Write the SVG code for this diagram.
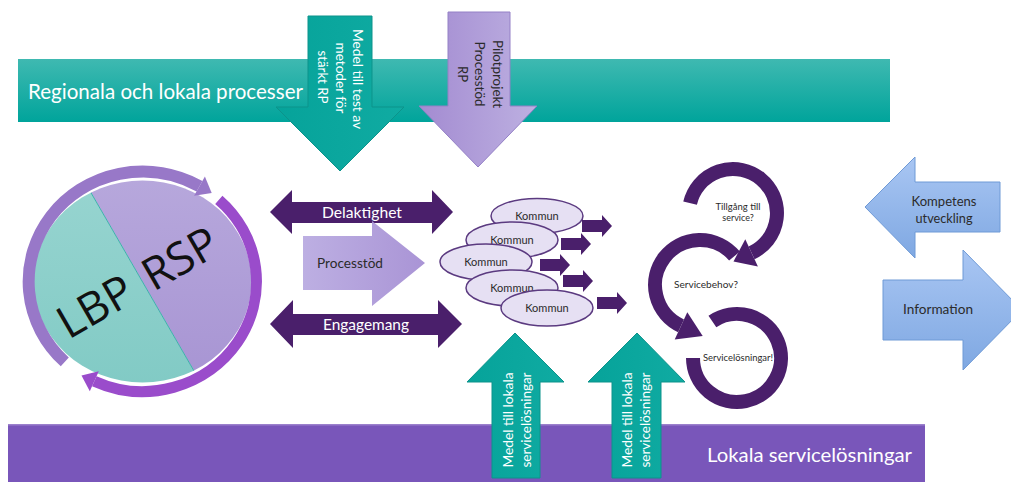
<svg xmlns="http://www.w3.org/2000/svg" width="1011" height="482" viewBox="0 0 1011 482">
<defs>
<linearGradient id="gTealBand" x1="0" y1="0" x2="0" y2="1"><stop offset="0" stop-color="#3fb9b1"/><stop offset="1" stop-color="#00a49b"/></linearGradient>
<linearGradient id="gTeal" x1="0" y1="0" x2="1" y2="0"><stop offset="0" stop-color="#06a39a"/><stop offset="1" stop-color="#10aba2"/></linearGradient>
<linearGradient id="gPilot" x1="0" y1="0" x2="1" y2="0"><stop offset="0" stop-color="#a38bd1"/><stop offset="1" stop-color="#bdb0e1"/></linearGradient>
<linearGradient id="gProc" x1="0" y1="0" x2="1" y2="0"><stop offset="0" stop-color="#b7a8e0"/><stop offset="1" stop-color="#a28bd2"/></linearGradient>
<linearGradient id="gBlue" x1="0" y1="0" x2="0" y2="1"><stop offset="0" stop-color="#a9c6f3"/><stop offset="1" stop-color="#7fa8e2"/></linearGradient>
<linearGradient id="gCTeal" x1="0" y1="0" x2="0" y2="1"><stop offset="0" stop-color="#9fd8d4"/><stop offset="1" stop-color="#7ac7c1"/></linearGradient>
<linearGradient id="gCPurp" x1="0" y1="0" x2="0" y2="1"><stop offset="0" stop-color="#bcaedf"/><stop offset="1" stop-color="#a28ed0"/></linearGradient>
<clipPath id="cCircle"><ellipse cx="142.5" cy="281.5" rx="109" ry="101"/></clipPath>
<style>
.t{font-family:Lato,"Liberation Sans",sans-serif}
.w{fill:#ffffff}
.d{fill:#2b2b2b}
.dp{fill:#4a1f6b}
.ring{fill:none;stroke:#4a1f6b;stroke-width:14}
.kom{fill:#e6e0f3;stroke:#5b3a80;stroke-width:1.5}
.blue{fill:url(#gBlue);stroke:#6f9ad6;stroke-width:1}
.teal{fill:url(#gTeal);stroke:#0c938b;stroke-width:1}
.big{font-family:'Open Sans','Liberation Sans',sans-serif;font-size:45px;fill:#111}
</style>
</defs>

<g id="band-top">
<rect x="18" y="59" width="872" height="63" fill="url(#gTealBand)"/>
<text class="t w" x="28" y="99" font-size="22" textLength="275" lengthAdjust="spacingAndGlyphs">Regionala och lokala processer</text>
</g>

<g id="band-bottom">
<rect x="8" y="424" width="917" height="58" fill="#7956ba"/>
<rect x="8" y="424" width="917" height="1.5" fill="#9b80cc"/>
<text class="t w" x="707" y="462" font-size="20" textLength="205" lengthAdjust="spacingAndGlyphs">Lokala servicelösningar</text>
</g>

<g id="arrow-medel-test">
<polygon class="teal" points="308,16 372,16 372,107 404,107 340,171 276,107 308,107"/>
<text class="t w" font-size="13" text-anchor="middle" transform="translate(352.5,79) rotate(90)" textLength="100" lengthAdjust="spacingAndGlyphs">Medel till test av</text>
<text class="t w" font-size="13" text-anchor="middle" transform="translate(335.5,78) rotate(90)" textLength="71" lengthAdjust="spacingAndGlyphs">metoder för</text>
<text class="t w" font-size="13" text-anchor="middle" transform="translate(318,77) rotate(90)" textLength="53" lengthAdjust="spacingAndGlyphs">stärkt RP</text>
</g>

<g id="arrow-pilot">
<polygon points="448,12 510,12 510,106 537,106 478,167 419,106 448,106" fill="url(#gPilot)" stroke="#9480c6" stroke-width="1"/>
<text class="t d" font-size="13" text-anchor="middle" transform="translate(492.5,74) rotate(90)" textLength="68" lengthAdjust="spacingAndGlyphs">Pilotprojekt</text>
<text class="t d" font-size="13" text-anchor="middle" transform="translate(474.5,74) rotate(90)" textLength="65" lengthAdjust="spacingAndGlyphs">Processtöd</text>
<text class="t d" font-size="13" text-anchor="middle" transform="translate(457.5,74) rotate(90)">RP</text>
</g>

<g id="cycle-lbp-rsp">
<g clip-path="url(#cCircle)">
<polygon points="42,108 242,454 -50,454 -50,108" fill="url(#gCTeal)"/>
<polygon points="42,108 242,454 300,454 300,108" fill="url(#gCPurp)"/>
<line x1="42" y1="108" x2="242" y2="454" stroke="#3bb3ab" stroke-width="1"/>
</g>
<path d="M 64.8 361.9 A 114 110 0 0 1 199.5 186.2" fill="none" stroke="#9878c8" stroke-width="12"/>
<polygon points="194.1,195.8 204.9,176.6 211.7,193" fill="#9878c8"/>
<path d="M 218.8 199.8 A 114 110 0 0 1 94.3 381.2" fill="none" stroke="#9a4ccb" stroke-width="11"/>
<polygon points="98.8,371.2 89.8,391.2 81.5,375.5" fill="#9a4ccb"/>
<text class="big" text-anchor="middle" transform="translate(188,272) rotate(-30)">RSP</text>
<text class="big" text-anchor="middle" transform="translate(103,320) rotate(-30)">LBP</text>
</g>

<g id="arrow-delaktighet">
<polygon class="dp" points="270,212 292,190 292,202 432,202 432,190 453,212 432,234 432,223 292,223 292,234"/>
<text class="t w" x="362" y="218" font-size="15" text-anchor="middle" textLength="80" lengthAdjust="spacingAndGlyphs">Delaktighet</text>
</g>

<g id="arrow-engagemang">
<polygon class="dp" points="270,324 293,300 293,314 438,314 438,300 462,324 438,348 438,335 293,335 293,348"/>
<text class="t w" x="366" y="330" font-size="15" text-anchor="middle" textLength="86" lengthAdjust="spacingAndGlyphs">Engagemang</text>
</g>

<g id="arrow-processtod">
<polygon points="303,236 372,236 372,221 425,263 372,306 372,290 303,290" fill="url(#gProc)" opacity="0.92"/>
<text class="t d" x="350" y="268" font-size="13" text-anchor="middle" textLength="66" lengthAdjust="spacingAndGlyphs">Processtöd</text>
</g>

<g id="kommuner">
<g id="kommun-1"><ellipse class="kom" cx="537" cy="216" rx="46" ry="17.5"/><text class="t d" x="537" y="220" font-size="11" text-anchor="middle">Kommun</text></g>
<g id="kommun-2"><ellipse class="kom" cx="512" cy="240" rx="46" ry="18"/><text class="t d" x="512" y="244" font-size="11" text-anchor="middle">Kommun</text></g>
<g id="kommun-3"><ellipse class="kom" cx="486" cy="262" rx="46" ry="18"/><text class="t d" x="486" y="266" font-size="11" text-anchor="middle">Kommun</text></g>
<g id="kommun-4"><ellipse class="kom" cx="512" cy="288" rx="46" ry="18"/><text class="t d" x="512" y="292" font-size="11" text-anchor="middle">Kommun</text></g>
<g id="kommun-5"><ellipse class="kom" cx="547" cy="308" rx="46" ry="18"/><text class="t d" x="547" y="312" font-size="11" text-anchor="middle">Kommun</text></g>
</g>

<g id="connectors">
<polygon class="dp" points="582,220 602,220 602,215 612,226 602,237 602,232 582,232"/>
<polygon class="dp" points="561,238 581,238 581,233 591,244 581,255 581,250 561,250"/>
<polygon class="dp" points="540,259 560,259 560,254 570,265 560,276 560,271 540,271"/>
<polygon class="dp" points="563,275 583,275 583,270 593,281 583,292 583,287 563,287"/>
<polygon class="dp" points="597,297 617,297 617,292 627,303 617,314 617,309 597,309"/>
</g>

<g id="cycle-service">
<path class="ring" d="M 690.1 203.1 A 44 44 0 1 1 751.6 252.9"/>
<polygon class="dp" points="757.9,266.5 745.3,239.3 733.5,261.4"/>
<path class="ring" d="M 734.5 256.1 A 45 45 0 1 0 681 325.8"/>
<polygon class="dp" points="674.7,339.4 687.3,312.2 702.7,336"/>
<path class="ring" d="M 712.4 321.5 A 44 44 0 1 1 693 358"/>
<text class="t d" x="738" y="210" font-size="9" text-anchor="middle" textLength="45" lengthAdjust="spacingAndGlyphs">Tillgång till</text>
<text class="t d" x="738" y="221" font-size="9" text-anchor="middle">service?</text>
<text class="t d" x="706" y="288" font-size="10" text-anchor="middle" textLength="64" lengthAdjust="spacingAndGlyphs">Servicebehov?</text>
<text class="t d" x="738" y="361" font-size="10" text-anchor="middle" textLength="70" lengthAdjust="spacingAndGlyphs">Servicelösningar!</text>
</g>

<g id="arrow-medel-lokala-1">
<polygon class="teal" points="515,333 564,382 540,382 540,478 492,478 492,382 467,382"/>
<text class="t w" font-size="13" text-anchor="middle" transform="translate(512.5,420) rotate(-90)" textLength="95" lengthAdjust="spacingAndGlyphs">Medel till lokala</text>
<text class="t w" font-size="13" text-anchor="middle" transform="translate(530.5,420) rotate(-90)" textLength="95" lengthAdjust="spacingAndGlyphs">servicelösningar</text>
</g>

<g id="arrow-medel-lokala-2">
<polygon class="teal" points="637,333 685,382 661,382 661,478 612,478 612,382 588,382"/>
<text class="t w" font-size="13" text-anchor="middle" transform="translate(631.5,420) rotate(-90)" textLength="95" lengthAdjust="spacingAndGlyphs">Medel till lokala</text>
<text class="t w" font-size="13" text-anchor="middle" transform="translate(649.5,420) rotate(-90)" textLength="95" lengthAdjust="spacingAndGlyphs">servicelösningar</text>
</g>

<g id="arrow-kompetens">
<polygon class="blue" points="865,207 915,157 915,182 1000,182 1000,232 915,232 915,258"/>
<text class="t d" x="944" y="206" font-size="13" text-anchor="middle" textLength="65" lengthAdjust="spacingAndGlyphs">Kompetens</text>
<text class="t d" x="944" y="223" font-size="13" text-anchor="middle" textLength="57" lengthAdjust="spacingAndGlyphs">utveckling</text>
</g>

<g id="arrow-information">
<polygon class="blue" points="883,280 963,280 963,250 1022,310 963,370 963,340 883,340"/>
<text class="t d" x="938" y="314" font-size="13" text-anchor="middle" textLength="70" lengthAdjust="spacingAndGlyphs">Information</text>
</g>
</svg>
